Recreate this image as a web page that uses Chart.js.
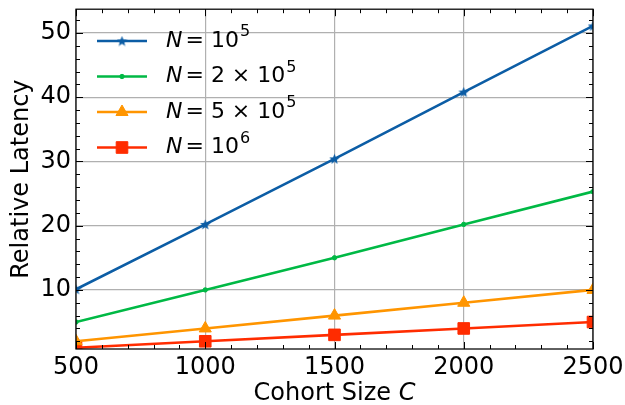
<!DOCTYPE html>
<html>
<head>
<meta charset="utf-8">
<script src="https://cdn.jsdelivr.net/npm/chart.js@4.4.0/dist/chart.umd.min.js"></script>
<style>
  html, body { margin: 0; padding: 0; background: #fff; }
  #wrap { width: 625px; height: 405px; }
</style>
</head>
<body>
<div id="wrap"><canvas id="chart"></canvas></div>
<script>
// data
const cohortSizes = [500, 1000, 1500, 2000, 2500];
const latencyN1e5 = [10.1, 20.2, 30.4, 40.8, 51.1];
const latencyN2e5 = [5.0, 10.0, 15.0, 20.2, 25.3];
const latencyN5e5 = [2.0, 4.0, 6.0, 8.0, 10.0];
const latencyN1e6 = [1.0, 2.0, 3.0, 4.0, 5.0];

const legendMantissas = ['10', '2 × 10', '5 × 10', '10'];
const legendExponents = ['5', '5', '5', '6'];

const xTicks = [500, 1000, 1500, 2000, 2500];
const yTicks = [10, 20, 30, 40, 50];

const FONT = 'DejaVu Sans';
const SIZE = 24;

function makeStar(size, color) {
    const c = document.createElement('canvas');
    c.width = c.height = size;
    const g = c.getContext('2d');
    g.fillStyle = color;
    g.beginPath();
    for (let i = 0; i < 10; i++) {
        const r = i % 2 ? size * 0.22 : size * 0.5;
        const a = -Math.PI / 2 + i * Math.PI / 5;
        g.lineTo(size / 2 + r * Math.cos(a), size / 2 + r * Math.sin(a) + size * 0.04);
    }
    g.closePath();
    g.fill();
    return c;
}

function toPoints(values) {
    return cohortSizes.map((x, i) => ({ x: x, y: values[i] }));
}

const series = [
    { values: latencyN1e5, color: '#0C5DA5', style: makeStar(11, '#0C5DA5'), radius: 5.5 },
    { values: latencyN2e5, color: '#00B945', style: 'circle', radius: 2.2 },
    { values: latencyN5e5, color: '#FF9500', style: 'triangle', radius: 7 },
    { values: latencyN1e6, color: '#FF2C00', style: 'rect', radius: 8.2 },
];

// frame, inward ticks on all sides, x title, legend
const decorPlugin = {
    id: 'decor',
    afterDraw(chart) {
        const ctx = chart.ctx;
        const a = chart.chartArea;
        const xs = chart.scales.x, ys = chart.scales.y;
        ctx.save();
        ctx.strokeStyle = '#000';
        ctx.lineWidth = 1;

        const tick = (x1, y1, x2, y2) => {
            ctx.beginPath(); ctx.moveTo(x1, y1); ctx.lineTo(x2, y2); ctx.stroke();
        };
        for (let v = 500; v <= 2500; v += 100) {
            const px = Math.round(xs.getPixelForValue(v)) + 0.5;
            const len = v % 500 === 0 ? 7 : 4;
            tick(px, a.bottom, px, a.bottom - len);
            tick(px, a.top, px, a.top + len);
        }
        for (let v = 2; v <= 52; v += 2) {
            const py = Math.round(ys.getPixelForValue(v)) + 0.5;
            const len = v % 10 === 0 ? 7 : 4;
            tick(a.left, py, a.left + len, py);
            tick(a.right, py, a.right - len, py);
        }
        ctx.lineWidth = 1.25;
        ctx.strokeRect(a.left, a.top, a.right - a.left, a.bottom - a.top);

        // x axis title with italic C
        ctx.fillStyle = '#000';
        ctx.textBaseline = 'alphabetic';
        ctx.textAlign = 'left';
        const part1 = 'Cohort Size ';
        ctx.font = SIZE + 'px ' + FONT;
        const w1 = ctx.measureText(part1).width;
        ctx.font = 'italic ' + SIZE + 'px ' + FONT;
        const w2 = ctx.measureText('C').width;
        const tx = (a.left + a.right) / 2 - (w1 + w2) / 2;
        ctx.font = SIZE + 'px ' + FONT;
        ctx.fillText(part1, tx, 400);
        ctx.font = 'italic ' + SIZE + 'px ' + FONT;
        ctx.fillText('C', tx + w1, 400);

        // legend
        const rowY = [41, 76.5, 112, 147.5];
        chart.data.datasets.forEach((ds, i) => {
            const y = rowY[i];
            ctx.strokeStyle = ds.borderColor;
            ctx.fillStyle = ds.backgroundColor;
            ctx.lineWidth = ds.borderWidth;
            ctx.beginPath(); ctx.moveTo(97, y); ctx.lineTo(147, y); ctx.stroke();
            ctx.lineWidth = 1;
            Chart.helpers.drawPoint(ctx, {
                pointStyle: ds.pointStyle, radius: ds.pointRadius, rotation: 0, borderWidth: 1
            }, 122, y);

            ctx.fillStyle = '#000';
            ctx.textBaseline = 'middle';
            let x = 166;
            ctx.font = 'italic 22px ' + FONT;
            ctx.fillText('N', x, y);
            x += ctx.measureText('N').width + 3;
            ctx.font = '22px ' + FONT;
            const body = '= ' + legendMantissas[i];
            ctx.fillText(body, x, y);
            x += ctx.measureText(body).width + 1;
            ctx.font = '16px ' + FONT;
            ctx.fillText(legendExponents[i], x, y - 9);
        });
        ctx.restore();
    }
};

new Chart(document.getElementById('chart'), {
    type: 'line',
    data: {
        datasets: series.map(s => ({
            data: toPoints(s.values),
            borderColor: s.color,
            backgroundColor: s.color,
            borderWidth: 2.6,
            pointStyle: s.style,
            pointRadius: s.radius,
            pointBorderWidth: 1,
            pointHoverRadius: s.radius,
            tension: 0,
            clip: 0
        }))
    },
    options: {
        responsive: true,
        maintainAspectRatio: false,
        animation: false,
        events: [],
        layout: { padding: { top: 9, right: 32, left: 0, bottom: 0 } },
        plugins: {
            legend: { display: false },
            tooltip: { enabled: false }
        },
        scales: {
            x: {
                type: 'linear',
                min: 500,
                max: 2500,
                afterBuildTicks: s => { s.ticks = xTicks.map(v => ({ value: v })); },
                afterFit: s => { s.height = 56; s.paddingLeft = 0; s.paddingRight = 0; },
                grid: { color: '#b0b0b0', lineWidth: 1.2, drawTicks: false },
                border: { display: false },
                ticks: {
                    color: '#000', font: { family: FONT, size: SIZE }, padding: 4, maxRotation: 0,
                    callback: v => String(v)
                }
            },
            y: {
                min: 0.8,
                max: 53.7,
                afterBuildTicks: s => { s.ticks = yTicks.map(v => ({ value: v })); },
                afterFit: s => { s.width = 76; s.paddingTop = 0; s.paddingBottom = 0; },
                grid: { color: '#b0b0b0', lineWidth: 1.2, drawTicks: false },
                border: { display: false },
                ticks: { color: '#000', font: { family: FONT, size: SIZE }, padding: 5 },
                title: {
                    display: true,
                    text: 'Relative Latency',
                    color: '#000',
                    font: { family: FONT, size: SIZE },
                    padding: { top: 7, bottom: 0 }
                }
            }
        }
    },
    plugins: [decorPlugin]
});
</script>
</body>
</html>
